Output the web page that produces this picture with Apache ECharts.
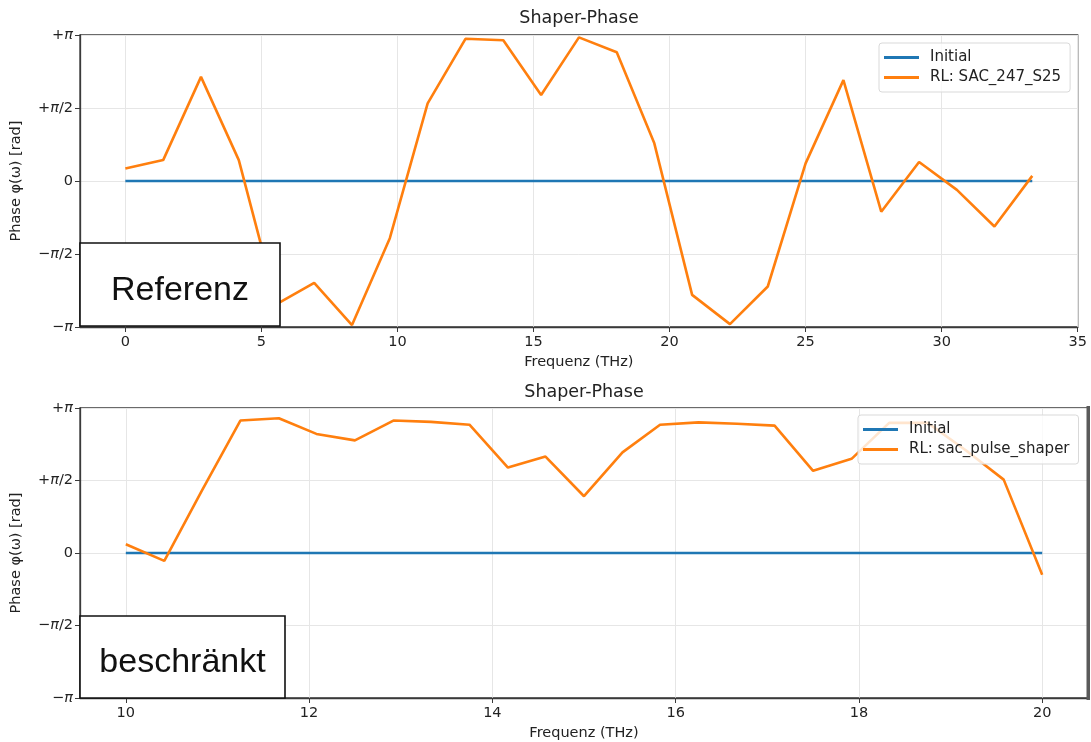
<!DOCTYPE html>
<html>
<head>
<meta charset="utf-8">
<script src="https://cdn.jsdelivr.net/npm/echarts@6/dist/echarts.min.js"></script>
<style>
html,body{margin:0;padding:0;background:#fff;}
#chart{width:1091px;height:742px;}
</style>
</head>
<body>
<div id="chart"></div>
<script>
// ---- data ----
const freqTop = [0, 1.39, 2.78, 4.17, 5.56, 6.94, 8.33, 9.72, 11.11, 12.5, 13.89, 15.28, 16.67, 18.06, 19.44, 20.83, 22.22, 23.61, 25, 26.39, 27.78, 29.17, 30.56, 31.94, 33.33];
const initialTop = [0, 0, 0, 0, 0, 0, 0, 0, 0, 0, 0, 0, 0, 0, 0, 0, 0, 0, 0, 0, 0, 0, 0, 0, 0];
const rlTop = [0.27, 0.45, 2.24, 0.45, -2.65, -2.19, -3.10, -1.23, 1.67, 3.06, 3.03, 1.85, 3.09, 2.77, 0.81, -2.45, -3.08, -2.27, 0.38, 2.17, -0.66, 0.41, -0.19, -0.98, 0.11];

const freqBottom = [10, 10.42, 10.83, 11.25, 11.67, 12.08, 12.5, 12.92, 13.33, 13.75, 14.17, 14.58, 15, 15.42, 15.83, 16.25, 16.67, 17.08, 17.5, 17.92, 18.33, 18.75, 19.17, 19.58, 20];
const initialBottom = [0, 0, 0, 0, 0, 0, 0, 0, 0, 0, 0, 0, 0, 0, 0, 0, 0, 0, 0, 0, 0, 0, 0, 0, 0];
const rlBottom = [0.19, -0.17, 1.35, 2.87, 2.92, 2.58, 2.44, 2.87, 2.84, 2.78, 1.85, 2.09, 1.23, 2.18, 2.78, 2.83, 2.80, 2.76, 1.78, 2.04, 2.82, 2.82, 2.22, 1.59, -0.47];

const xTicksTop = [0, 5, 10, 15, 20, 25, 30, 35];
const xTicksBottom = [10, 12, 14, 16, 18, 20];
const yTickValues = [-Math.PI, -Math.PI / 2, 0, Math.PI / 2, Math.PI];
const yTickLabels = ['\u2212\u03c0', '\u2212\u03c0/2', '0', '+\u03c0/2', '+\u03c0'];

const titleText = 'Shaper-Phase';
const xName = 'Frequenz (THz)';
const yName = 'Phase \u03c6(\u03c9) [rad]';
const seriesNamesTop = ['Initial', 'RL: SAC_247_S25'];
const seriesNamesBottom = ['Initial', 'RL: sac_pulse_shaper'];
const boxLabels = ['Referenz', 'beschr\u00e4nkt'];

// ---- styling ----
const FONT = 'DejaVu Sans';
const BLUE = '#1f77b4';
const ORANGE = '#ff7f0e';
const TXT = '#222';

function pair(xs, ys) { return xs.map((x, i) => [x, ys[i]]); }

function yLabel(v) {
  const idx = Math.round(v / (Math.PI / 2)) + 2;
  const s = yTickLabels[idx] || '';
  return s.replace('\u03c0', '{i|\u03c0}');
}

function makeX(gridIndex, min, max, ticks) {
  return {
    type: 'value', gridIndex, min, max,
    name: xName, nameLocation: 'middle', nameGap: 28,
    nameTextStyle: { fontFamily: FONT, fontSize: 14.5, color: TXT },
    axisLine: { show: true, onZero: false, lineStyle: { color: '#3a3a3a', width: 1.3 } },
    axisTick: { show: true, length: 5, customValues: ticks, lineStyle: { color: '#3a3a3a', width: 1 } },
    axisLabel: { customValues: ticks, margin: 8, fontFamily: FONT, fontSize: 14.5, color: TXT },
    splitLine: { show: true, lineStyle: { color: '#e6e6e6', width: 1 } }
  };
}
function makeY(gridIndex) {
  return {
    type: 'value', gridIndex, min: -Math.PI, max: Math.PI,
    name: yName, nameLocation: 'middle', nameGap: 56,
    nameTextStyle: { fontFamily: FONT, fontSize: 14.5, color: TXT },
    axisLine: { show: true, onZero: false, lineStyle: { color: '#3a3a3a', width: 1.3 } },
    axisTick: { show: true, length: 5, customValues: yTickValues, lineStyle: { color: '#3a3a3a', width: 1 } },
    axisLabel: {
      customValues: yTickValues, margin: 7, fontFamily: FONT, fontSize: 14.5, color: TXT,
      formatter: yLabel,
      rich: { i: { fontFamily: FONT, fontStyle: 'italic', fontSize: 14.5, color: TXT } }
    },
    splitLine: { show: true, lineStyle: { color: '#e6e6e6', width: 1 } }
  };
}
function makeLegend(names, left, top) {
  return {
    data: names, orient: 'vertical', left, top,
    icon: 'rect', itemWidth: 35, itemHeight: 3, itemGap: 5,
    padding: [7, 9, 7, 5],
    backgroundColor: 'rgba(255,255,255,0.8)',
    borderColor: '#d9d9d9', borderWidth: 1, borderRadius: 3,
    selectedMode: false,
    textStyle: { fontFamily: FONT, fontSize: 15, color: TXT, padding: [0, 0, 0, 6] }
  };
}
function lineSeries(name, data, color, xi, yi, z) {
  return {
    type: 'line', name, data, xAxisIndex: xi, yAxisIndex: yi,
    symbol: 'none', smooth: false, clip: false, z,
    lineStyle: { color, width: 2.6 }, itemStyle: { color }
  };
}
function boxGraphic(x, y, w, h, label) {
  return {
    type: 'group', z: 100,
    children: [
      { type: 'rect', shape: { x, y, width: w, height: h }, style: { fill: '#fff', stroke: '#111', lineWidth: 1.6 }, z: 100 },
      { type: 'text', x: x + w / 2, y: y + h / 2 + 6, style: { text: label, font: '34px "Liberation Sans", Arial, sans-serif', fill: '#111', align: 'center', verticalAlign: 'middle' }, z: 101 }
    ]
  };
}

const chart = echarts.init(document.getElementById('chart'), null, { renderer: 'canvas' });
chart.setOption({
  animation: false,
  backgroundColor: '#fff',
  title: [
    { text: titleText, left: 579, top: 9, textAlign: 'center', padding: 0, textStyle: { fontFamily: FONT, fontSize: 17.5, fontWeight: 'normal', color: TXT } },
    { text: titleText, left: 584, top: 383, textAlign: 'center', padding: 0, textStyle: { fontFamily: FONT, fontSize: 17.5, fontWeight: 'normal', color: TXT } }
  ],
  legend: [
    makeLegend(seriesNamesTop, 879, 43),
    makeLegend(seriesNamesBottom, 858, 415)
  ],
  grid: [
    { left: 80, top: 35, width: 997.7, height: 292, show: true, borderColor: '#3a3a3a', borderWidth: 1.3, backgroundColor: 'transparent', containLabel: false },
    { left: 80, top: 408, width: 1008, height: 290, show: true, borderColor: '#3a3a3a', borderWidth: 1.3, backgroundColor: 'transparent', containLabel: false }
  ],
  xAxis: [
    makeX(0, -1.6665, 35, xTicksTop),
    makeX(1, 9.5, 20.5, xTicksBottom)
  ],
  yAxis: [makeY(0), makeY(1)],
  series: [
    lineSeries(seriesNamesTop[0], pair(freqTop, initialTop), BLUE, 0, 0, 2),
    lineSeries(seriesNamesTop[1], pair(freqTop, rlTop), ORANGE, 0, 0, 3),
    lineSeries(seriesNamesBottom[0], pair(freqBottom, initialBottom), BLUE, 1, 1, 2),
    lineSeries(seriesNamesBottom[1], pair(freqBottom, rlBottom), ORANGE, 1, 1, 3)
  ],
  graphic: [
    boxGraphic(80, 243, 200, 83, boxLabels[0]),
    boxGraphic(80, 616, 205, 82, boxLabels[1]),
    { type: 'rect', z: 90, shape: { x: 1086.5, y: 406, width: 3.5, height: 294 }, style: { fill: '#5a5a5a' } }
  ]
});
</script>
</body>
</html>
